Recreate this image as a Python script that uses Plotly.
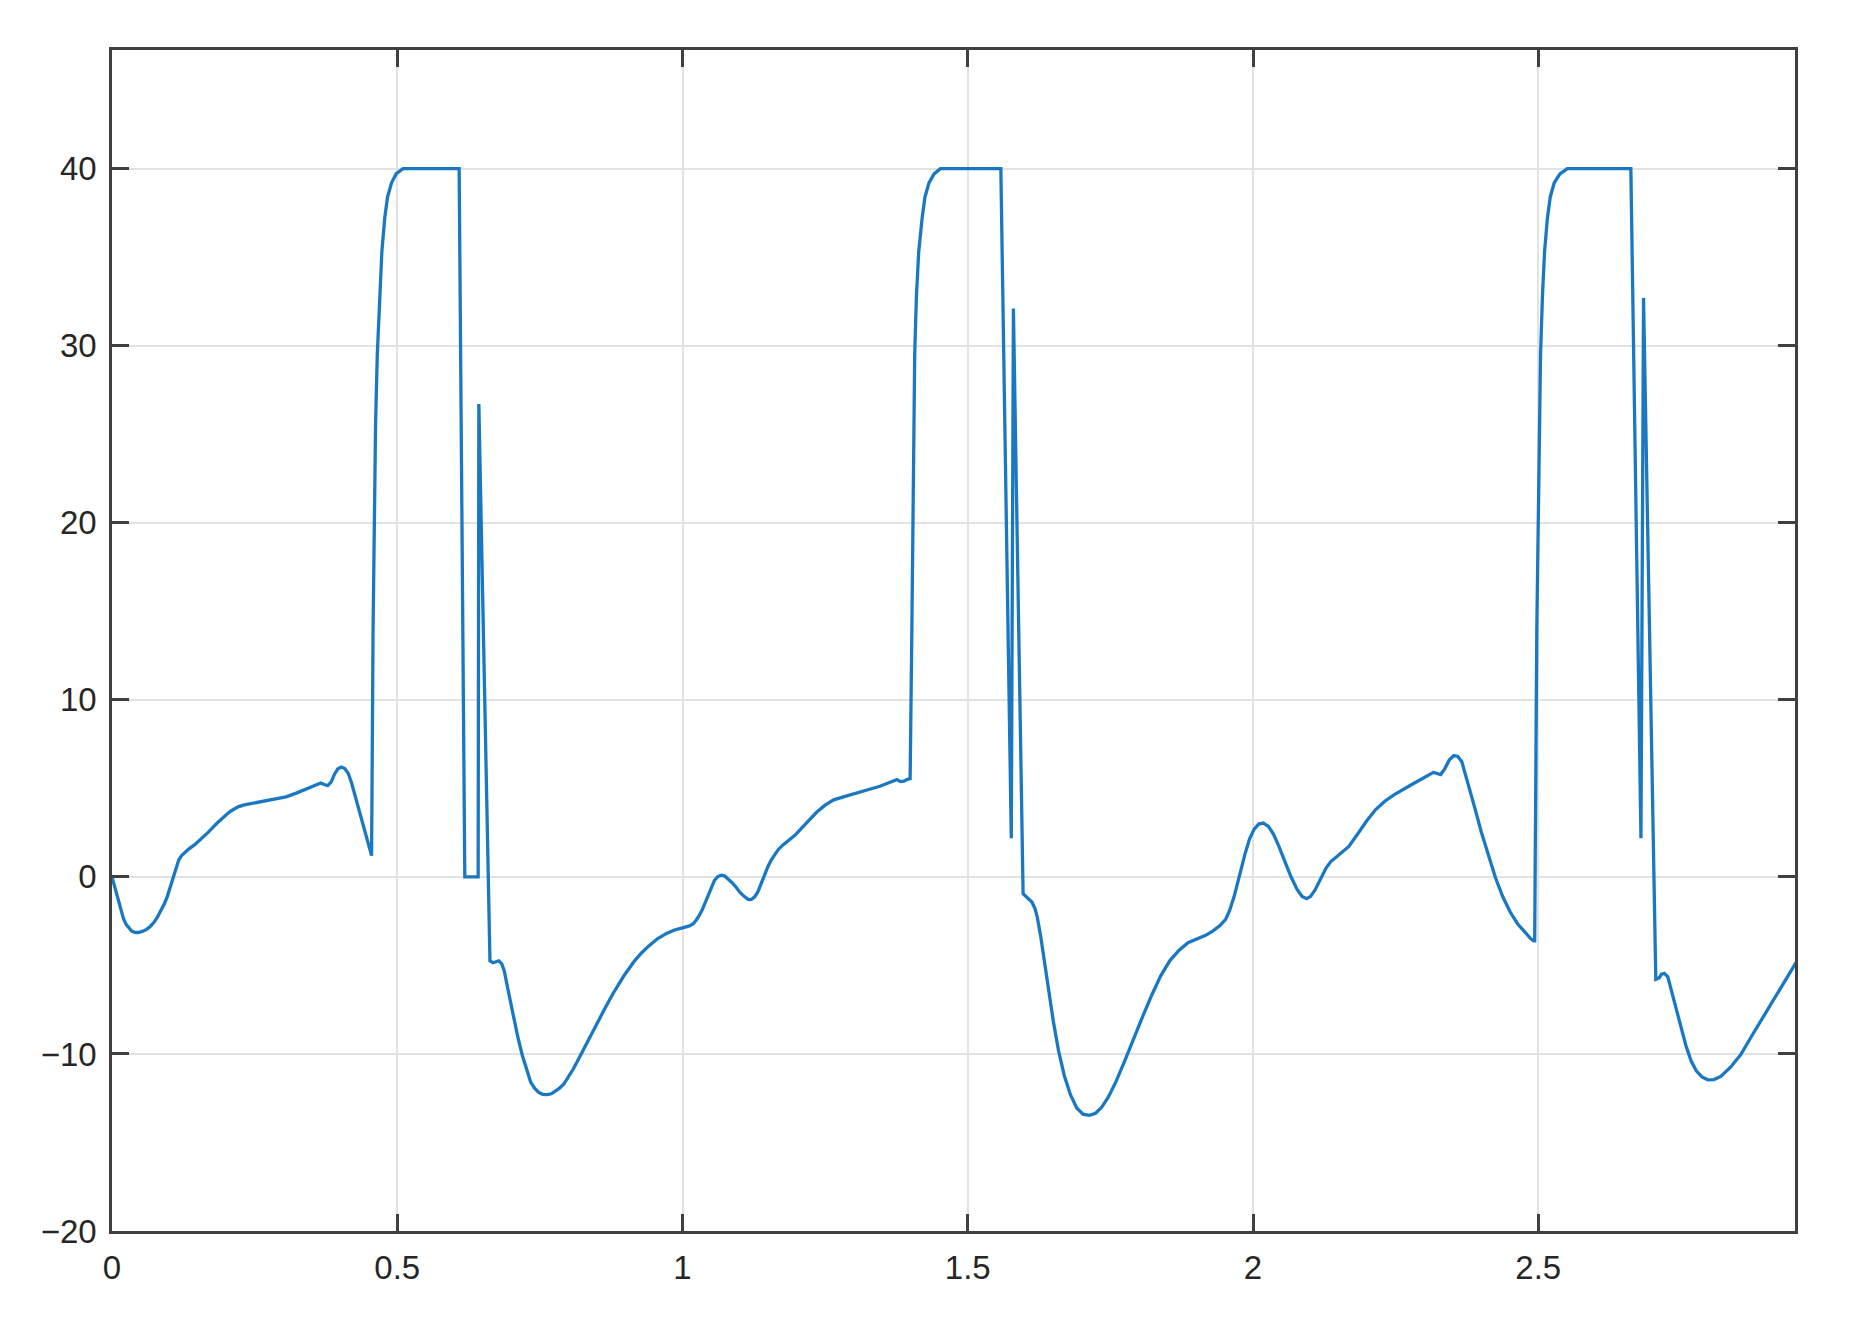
import plotly.graph_objects as go

# time (s) and signal values
t = [
    # cycle 1
    0.000, 0.005, 0.010, 0.015, 0.020, 0.025, 0.030, 0.035, 0.040, 0.046,
    0.053, 0.060, 0.067, 0.074, 0.080, 0.086, 0.092, 0.097, 0.102, 0.107,
    0.112, 0.117, 0.122, 0.128, 0.135, 0.145, 0.155, 0.168, 0.183, 0.197,
    0.205, 0.212, 0.222, 0.232, 0.245, 0.265, 0.288, 0.305, 0.323, 0.346,
    0.360, 0.366, 0.372, 0.378, 0.384, 0.390, 0.396, 0.402, 0.408, 0.414,
    0.420, 0.427, 0.434, 0.445, 0.455,
    0.4576, 0.4598, 0.462, 0.465, 0.469, 0.473, 0.478, 0.483, 0.490, 0.498,
    0.510, 0.533, 0.6085, 0.6184, 0.6418, 0.643,
    0.6625, 0.668, 0.673, 0.678, 0.683, 0.6875, 0.695, 0.703, 0.711, 0.719,
    0.727, 0.734, 0.741, 0.748, 0.755, 0.7625, 0.770, 0.777, 0.784, 0.792,
    0.800, 0.808, 0.816, 0.831, 0.847, 0.862, 0.878, 0.897, 0.916, 0.928,
    0.941, 0.956, 0.972, 0.986, 1.000, 1.012, 1.019, 1.026, 1.034, 1.042,
    1.050, 1.056, 1.062, 1.068, 1.074, 1.080, 1.086, 1.093, 1.100, 1.108,
    1.115, 1.120, 1.126, 1.132, 1.138, 1.144, 1.150, 1.156, 1.162, 1.168,
    1.175, 1.185, 1.197, 1.210, 1.222, 1.235, 1.250, 1.265, 1.285, 1.305,
    1.325, 1.346, 1.366, 1.376, 1.382, 1.388, 1.395, 1.399,
    # cycle 2
    1.402, 1.4035, 1.405, 1.407, 1.410, 1.414, 1.420, 1.425, 1.432, 1.441,
    1.452, 1.476, 1.558, 1.5763, 1.580,
    1.597, 1.605, 1.6124, 1.618, 1.622, 1.628, 1.634, 1.642, 1.650, 1.659,
    1.669, 1.680, 1.691, 1.702, 1.713, 1.724, 1.735, 1.747, 1.760, 1.775,
    1.791, 1.807, 1.823, 1.838, 1.854, 1.870, 1.886, 1.901, 1.917, 1.930,
    1.942, 1.952, 1.959, 1.967, 1.976, 1.986, 1.994, 2.002, 2.010, 2.018,
    2.027, 2.036, 2.045, 2.055, 2.066, 2.077, 2.086, 2.094, 2.101, 2.109,
    2.118, 2.128, 2.136, 2.143, 2.155, 2.168, 2.184, 2.200, 2.215, 2.231,
    2.247, 2.263, 2.279, 2.294, 2.306, 2.316, 2.322, 2.329, 2.336, 2.344,
    2.352, 2.359, 2.366, 2.376, 2.388, 2.400, 2.413, 2.425, 2.438, 2.451,
    2.464, 2.478, 2.487, 2.492, 2.4937,
    # cycle 3
    2.4974, 2.4995, 2.5014, 2.504, 2.5073, 2.511, 2.516, 2.521, 2.528, 2.538,
    2.551, 2.575, 2.6623, 2.680, 2.6845,
    2.706, 2.712, 2.716, 2.721, 2.727, 2.732, 2.741, 2.750, 2.759, 2.768,
    2.777, 2.787, 2.797, 2.808, 2.820, 2.837, 2.855, 2.872, 2.890, 2.907,
    2.925, 2.940, 2.952,
]
v = [
    # cycle 1
    0.0, -0.6, -1.2, -1.85, -2.35, -2.7, -2.92, -3.07, -3.13, -3.14,
    -3.08, -2.98, -2.8, -2.55, -2.25, -1.9, -1.5, -1.1, -0.6, -0.05,
    0.5, 0.95, 1.2, 1.4, 1.58, 1.82, 2.1, 2.5, 3.0, 3.45,
    3.65, 3.79, 3.97, 4.07, 4.15, 4.25, 4.37, 4.52, 4.73, 5.05,
    5.25, 5.3, 5.22, 5.15, 5.35, 5.8, 6.1, 6.2, 6.12, 5.85,
    5.3, 4.5, 3.6, 2.4, 1.2,
    13.9, 20.0, 25.6, 29.5, 32.8, 35.3, 37.2, 38.4, 39.2, 39.7,
    40.0, 40.0, 40.0, 0.0, 0.0, 26.7,
    -4.74, -4.85, -4.8, -4.74, -4.9, -5.3, -6.5, -7.8, -9.0, -10.06,
    -10.95, -11.6, -11.95, -12.17, -12.28, -12.3, -12.25, -12.12, -11.95, -11.7,
    -11.3, -10.88, -10.4, -9.45, -8.5, -7.55, -6.6, -5.6, -4.74, -4.3,
    -3.9, -3.5, -3.19, -3.0, -2.88, -2.77, -2.65, -2.35, -1.9, -1.25,
    -0.6, -0.2, 0.02, 0.1, 0.05, -0.1, -0.3, -0.55, -0.85, -1.1,
    -1.27, -1.28, -1.15, -0.85, -0.35, 0.15, 0.6, 0.98, 1.3, 1.55,
    1.78, 2.02, 2.35, 2.8, 3.23, 3.65, 4.05, 4.35, 4.55, 4.72,
    4.92, 5.12, 5.38, 5.5, 5.38, 5.4, 5.52, 5.55,
    # cycle 2
    13.95, 20.0, 25.6, 29.5, 32.8, 35.3, 37.2, 38.4, 39.2, 39.7,
    40.0, 40.0, 40.0, 2.18, 32.1,
    -0.95, -1.2, -1.42, -1.8, -2.3, -3.4, -4.74, -6.5, -8.16, -9.8,
    -11.2, -12.3, -13.05, -13.4, -13.47, -13.35, -13.0, -12.4, -11.55, -10.4,
    -9.1, -7.85, -6.64, -5.6, -4.74, -4.15, -3.72, -3.5, -3.3, -3.05,
    -2.75, -2.4, -1.9, -1.1, 0.1, 1.3, 2.15, 2.7, 2.98, 3.04,
    2.85, 2.4, 1.75, 0.95, 0.05, -0.7, -1.1, -1.23, -1.1, -0.72,
    -0.1, 0.5, 0.85, 1.05, 1.35, 1.72, 2.45, 3.2, 3.8, 4.27,
    4.63, 4.95, 5.23, 5.5, 5.72, 5.9, 5.85, 5.78, 6.1, 6.6,
    6.85, 6.8, 6.5, 5.4, 3.98, 2.55, 1.14, -0.05, -1.14, -2.0,
    -2.66, -3.2, -3.5, -3.62, -3.62,
    # cycle 3
    13.95, 20.0, 25.6, 29.5, 32.8, 35.3, 37.2, 38.4, 39.2, 39.7,
    40.0, 40.0, 40.0, 2.18, 32.7,
    -5.78, -5.7, -5.5, -5.45, -5.65, -6.25, -7.4, -8.52, -9.55, -10.4,
    -10.95, -11.3, -11.46, -11.45, -11.27, -10.75, -10.04, -9.1, -8.14, -7.2,
    -6.25, -5.45, -4.83,
]

x_ticks = [0, 0.5, 1, 1.5, 2, 2.5]
x_tick_labels = ["0", "0.5", "1", "1.5", "2", "2.5"]
y_ticks = [-20, -10, 0, 10, 20, 30, 40]
y_tick_labels = ["\u221220", "\u221210", "0", "10", "20", "30", "40"]

fig = go.Figure()
fig.add_trace(go.Scatter(x=t, y=v, mode="lines",
                         line=dict(color="#1a78c2", width=3.3),
                         showlegend=False, hoverinfo="skip"))

axis_common = dict(
    showline=True, linecolor="#404040", linewidth=2.5, mirror="ticks",
    ticks="inside", ticklen=17, tickwidth=2.5, tickcolor="#404040",
    showgrid=True, gridcolor="#e2e2e2", gridwidth=2,
    zeroline=False,
    tickfont=dict(family="Liberation Sans, Arial, sans-serif", size=33, color="#262626"),
)

fig.update_xaxes(range=[0, 2.95], tickmode="array", tickvals=x_ticks,
                 ticktext=x_tick_labels, ticklabelstandoff=6, **axis_common)
fig.update_yaxes(range=[-20, 46.7], tickmode="array", tickvals=y_ticks,
                 ticktext=y_tick_labels, ticklabelstandoff=6, **axis_common)

# page body has an 8px default margin, so the figure is offset by 8px
fig.update_layout(
    width=1849, height=1324,
    margin=dict(l=104, r=62, t=42, b=101),
    paper_bgcolor="white", plot_bgcolor="white",
)

fig.write_html("out.html")
